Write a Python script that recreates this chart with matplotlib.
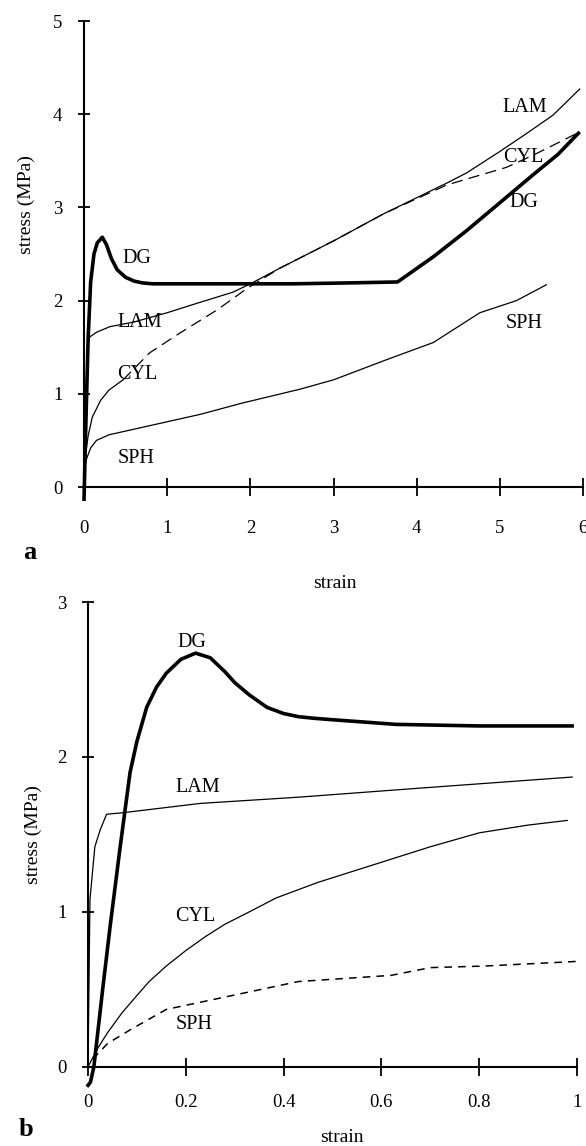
import matplotlib
matplotlib.use("Agg")
import matplotlib.pyplot as plt

plt.rcParams['font.family'] = ['Liberation Serif', 'DejaVu Serif']

# ---------------- panel a data (strain, stress MPa) ----------------
dg_a_x = [0.0, 0.02, 0.05, 0.08, 0.12, 0.16, 0.22, 0.27, 0.33, 0.4, 0.5, 0.6, 0.7, 0.83, 1.5, 2.5, 3.2, 3.77, 4.2, 4.6, 5.0, 5.4, 5.7, 5.96]
dg_a_y = [-0.15, 0.6, 1.6, 2.2, 2.5, 2.62, 2.68, 2.6, 2.45, 2.33, 2.25, 2.21, 2.19, 2.18, 2.18, 2.18, 2.19, 2.2, 2.47, 2.75, 3.05, 3.35, 3.57, 3.81]

lam_a_x = [0.0, 0.02, 0.05, 0.07, 0.15, 0.31, 0.6, 1.0, 1.39, 1.79, 2.0, 2.36, 3.0, 3.6, 4.36, 4.6, 5.0, 5.3, 5.64, 5.96]
lam_a_y = [0.0, 1.0, 1.55, 1.61, 1.66, 1.72, 1.77, 1.87, 1.98, 2.09, 2.18, 2.35, 2.64, 2.93, 3.26, 3.37, 3.6, 3.78, 3.99, 4.27]

cyl_a_x = [0.0, 0.02, 0.05, 0.1, 0.2, 0.3, 0.47, 0.79, 1.15, 1.6, 1.96, 2.36, 3.0, 3.6, 4.36, 4.7, 5.08, 5.4, 5.76, 5.96]
cyl_a_y = [0.1, 0.35, 0.55, 0.75, 0.93, 1.04, 1.15, 1.44, 1.65, 1.9, 2.13, 2.35, 2.64, 2.93, 3.24, 3.33, 3.43, 3.56, 3.72, 3.81]
cyl_a_solid_end = 7  # CYL drawn solid up to this point, dashed afterwards

sph_a_x = [0.0, 0.03, 0.08, 0.15, 0.3, 0.5, 0.9, 1.4, 1.9, 2.6, 3.0, 3.68, 4.2, 4.76, 5.2, 5.56]
sph_a_y = [0.15, 0.3, 0.42, 0.5, 0.56, 0.6, 0.68, 0.78, 0.9, 1.05, 1.15, 1.38, 1.55, 1.87, 2.0, 2.17]

# ---------------- panel b data ----------------
dg_b_x = [0.0, 0.005, 0.012, 0.03, 0.045, 0.065, 0.086, 0.1, 0.12, 0.14, 0.16, 0.19, 0.22, 0.25, 0.28, 0.3, 0.33, 0.366, 0.4, 0.43, 0.46, 0.5, 0.63, 0.8, 0.99]
dg_b_y = [-0.12, -0.1, 0.0, 0.5, 0.9, 1.4, 1.9, 2.1, 2.32, 2.45, 2.54, 2.63, 2.67, 2.64, 2.55, 2.48, 2.4, 2.32, 2.28, 2.26, 2.25, 2.24, 2.21, 2.2, 2.2]

lam_b_x = [0.0, 0.004, 0.014, 0.025, 0.038, 0.072, 0.23, 0.43, 0.685, 0.99]
lam_b_y = [0.0, 1.08, 1.42, 1.53, 1.63, 1.64, 1.70, 1.74, 1.80, 1.87]

cyl_b_x = [0.0, 0.02, 0.04, 0.07, 0.1, 0.125, 0.16, 0.2, 0.24, 0.28, 0.33, 0.385, 0.47, 0.6, 0.7, 0.8, 0.9, 0.98]
cyl_b_y = [0.0, 0.12, 0.22, 0.35, 0.46, 0.55, 0.65, 0.75, 0.84, 0.92, 1.0, 1.09, 1.19, 1.32, 1.42, 1.51, 1.56, 1.59]

sph_b_x = [0.01, 0.04, 0.087, 0.16, 0.28, 0.43, 0.62, 0.70, 0.81, 1.0]
sph_b_y = [0.05, 0.15, 0.24, 0.37, 0.45, 0.55, 0.59, 0.64, 0.65, 0.68]

a_labels = ['DG', 'LAM', 'CYL', 'SPH', 'LAM', 'CYL', 'DG', 'SPH']
a_label_x = [0.64, 0.67, 0.64, 0.62, 5.3, 5.28, 5.29, 5.29]
a_label_y = [2.45, 1.76, 1.21, 0.31, 4.07, 3.54, 3.05, 1.75]

b_labels = ['DG', 'LAM', 'CYL', 'SPH']
b_label_x = [0.213, 0.225, 0.22, 0.217]
b_label_y = [2.74, 1.80, 0.97, 0.27]

a_xticks = [0, 1, 2, 3, 4, 5, 6]
a_yticks = [0, 1, 2, 3, 4, 5]
b_xticks = [0, 0.2, 0.4, 0.6, 0.8, 1]
b_xticklabels = ['0', '0.2', '0.4', '0.6', '0.8', '1']
b_yticks = [0, 1, 2, 3]

W, H = 586, 1146
fig = plt.figure(figsize=(W / 100, H / 100), dpi=100)

def px_axes(left, right, top, bottom):
    return fig.add_axes([left / W, 1 - bottom / H, (right - left) / W, (bottom - top) / H])

ax1 = px_axes(84, 583, 21, 510.3)
ax2 = px_axes(88, 577, 602, 1090)

thick = 2.6
thin = 0.9
LBL = 14.5
TCK = 13.5

def style(ax, xlim, ylim, xt, yt, xtl=None, xpad=13):
    ax.set_xlim(*xlim)
    ax.set_ylim(*ylim)
    for s in ['top', 'right']:
        ax.spines[s].set_visible(False)
    ax.spines['bottom'].set_position(('data', 0))
    ax.spines['bottom'].set_bounds(xt[0], xt[-1])
    ax.spines['left'].set_bounds(yt[0], yt[-1])
    for s in ['bottom', 'left']:
        ax.spines[s].set_linewidth(1.5)
    ax.set_xticks(xt)
    if xtl is not None:
        ax.set_xticklabels(xtl)
    ax.set_yticks(yt)
    ax.tick_params(axis='x', direction='inout', length=13, width=1.3, labelsize=TCK, pad=xpad)
    ax.tick_params(axis='y', direction='inout', length=9, width=1.3, labelsize=TCK, pad=11)
    ax.patch.set_alpha(0)

style(ax1, (0, 6), (-0.25, 5), a_xticks, a_yticks, xpad=17.5)
style(ax2, (0, 1), (-0.15, 3), b_xticks, b_yticks, b_xticklabels, xpad=13)

# panel a curves
ax1.plot(dg_a_x, dg_a_y, color='black', lw=thick, clip_on=False, solid_capstyle='butt')
ax1.plot(lam_a_x, lam_a_y, color='black', lw=thin, clip_on=False)
ax1.plot(cyl_a_x[:cyl_a_solid_end], cyl_a_y[:cyl_a_solid_end], color='black', lw=thin, clip_on=False)
ax1.plot(cyl_a_x[cyl_a_solid_end - 1:], cyl_a_y[cyl_a_solid_end - 1:], color='black', lw=thin,
         dashes=(9, 5), clip_on=False)
ax1.plot(sph_a_x, sph_a_y, color='black', lw=thin, clip_on=False)
for t, x, y in zip(a_labels, a_label_x, a_label_y):
    ax1.text(x, y, t, fontsize=LBL, ha='center', va='center')

# panel b curves
ax2.plot(dg_b_x, dg_b_y, color='black', lw=thick, clip_on=False)
ax2.plot(lam_b_x, lam_b_y, color='black', lw=thin, clip_on=False)
ax2.plot(cyl_b_x, cyl_b_y, color='black', lw=thin, clip_on=False)
ax2.plot(sph_b_x, sph_b_y, color='black', lw=1.1, dashes=(5, 4), clip_on=False)
for t, x, y in zip(b_labels, b_label_x, b_label_y):
    ax2.text(x, y, t, fontsize=LBL, ha='center', va='center')

# axis labels and panel letters (pixel positions)
def ftext(xp, yp, s, **kw):
    fig.text(xp / W, 1 - yp / H, s, ha='center', va='center', **kw)

ftext(26, 205, 'stress (MPa)', rotation=90, fontsize=14)
ftext(33, 835, 'stress (MPa)', rotation=90, fontsize=14)
ftext(335, 583, 'strain', fontsize=14)
ftext(342, 1138, 'strain', fontsize=14)
ftext(30, 552, 'a', fontsize=19, fontweight='bold')
ftext(26, 1129, 'b', fontsize=19, fontweight='bold')

fig.savefig('out.png', dpi=100)
